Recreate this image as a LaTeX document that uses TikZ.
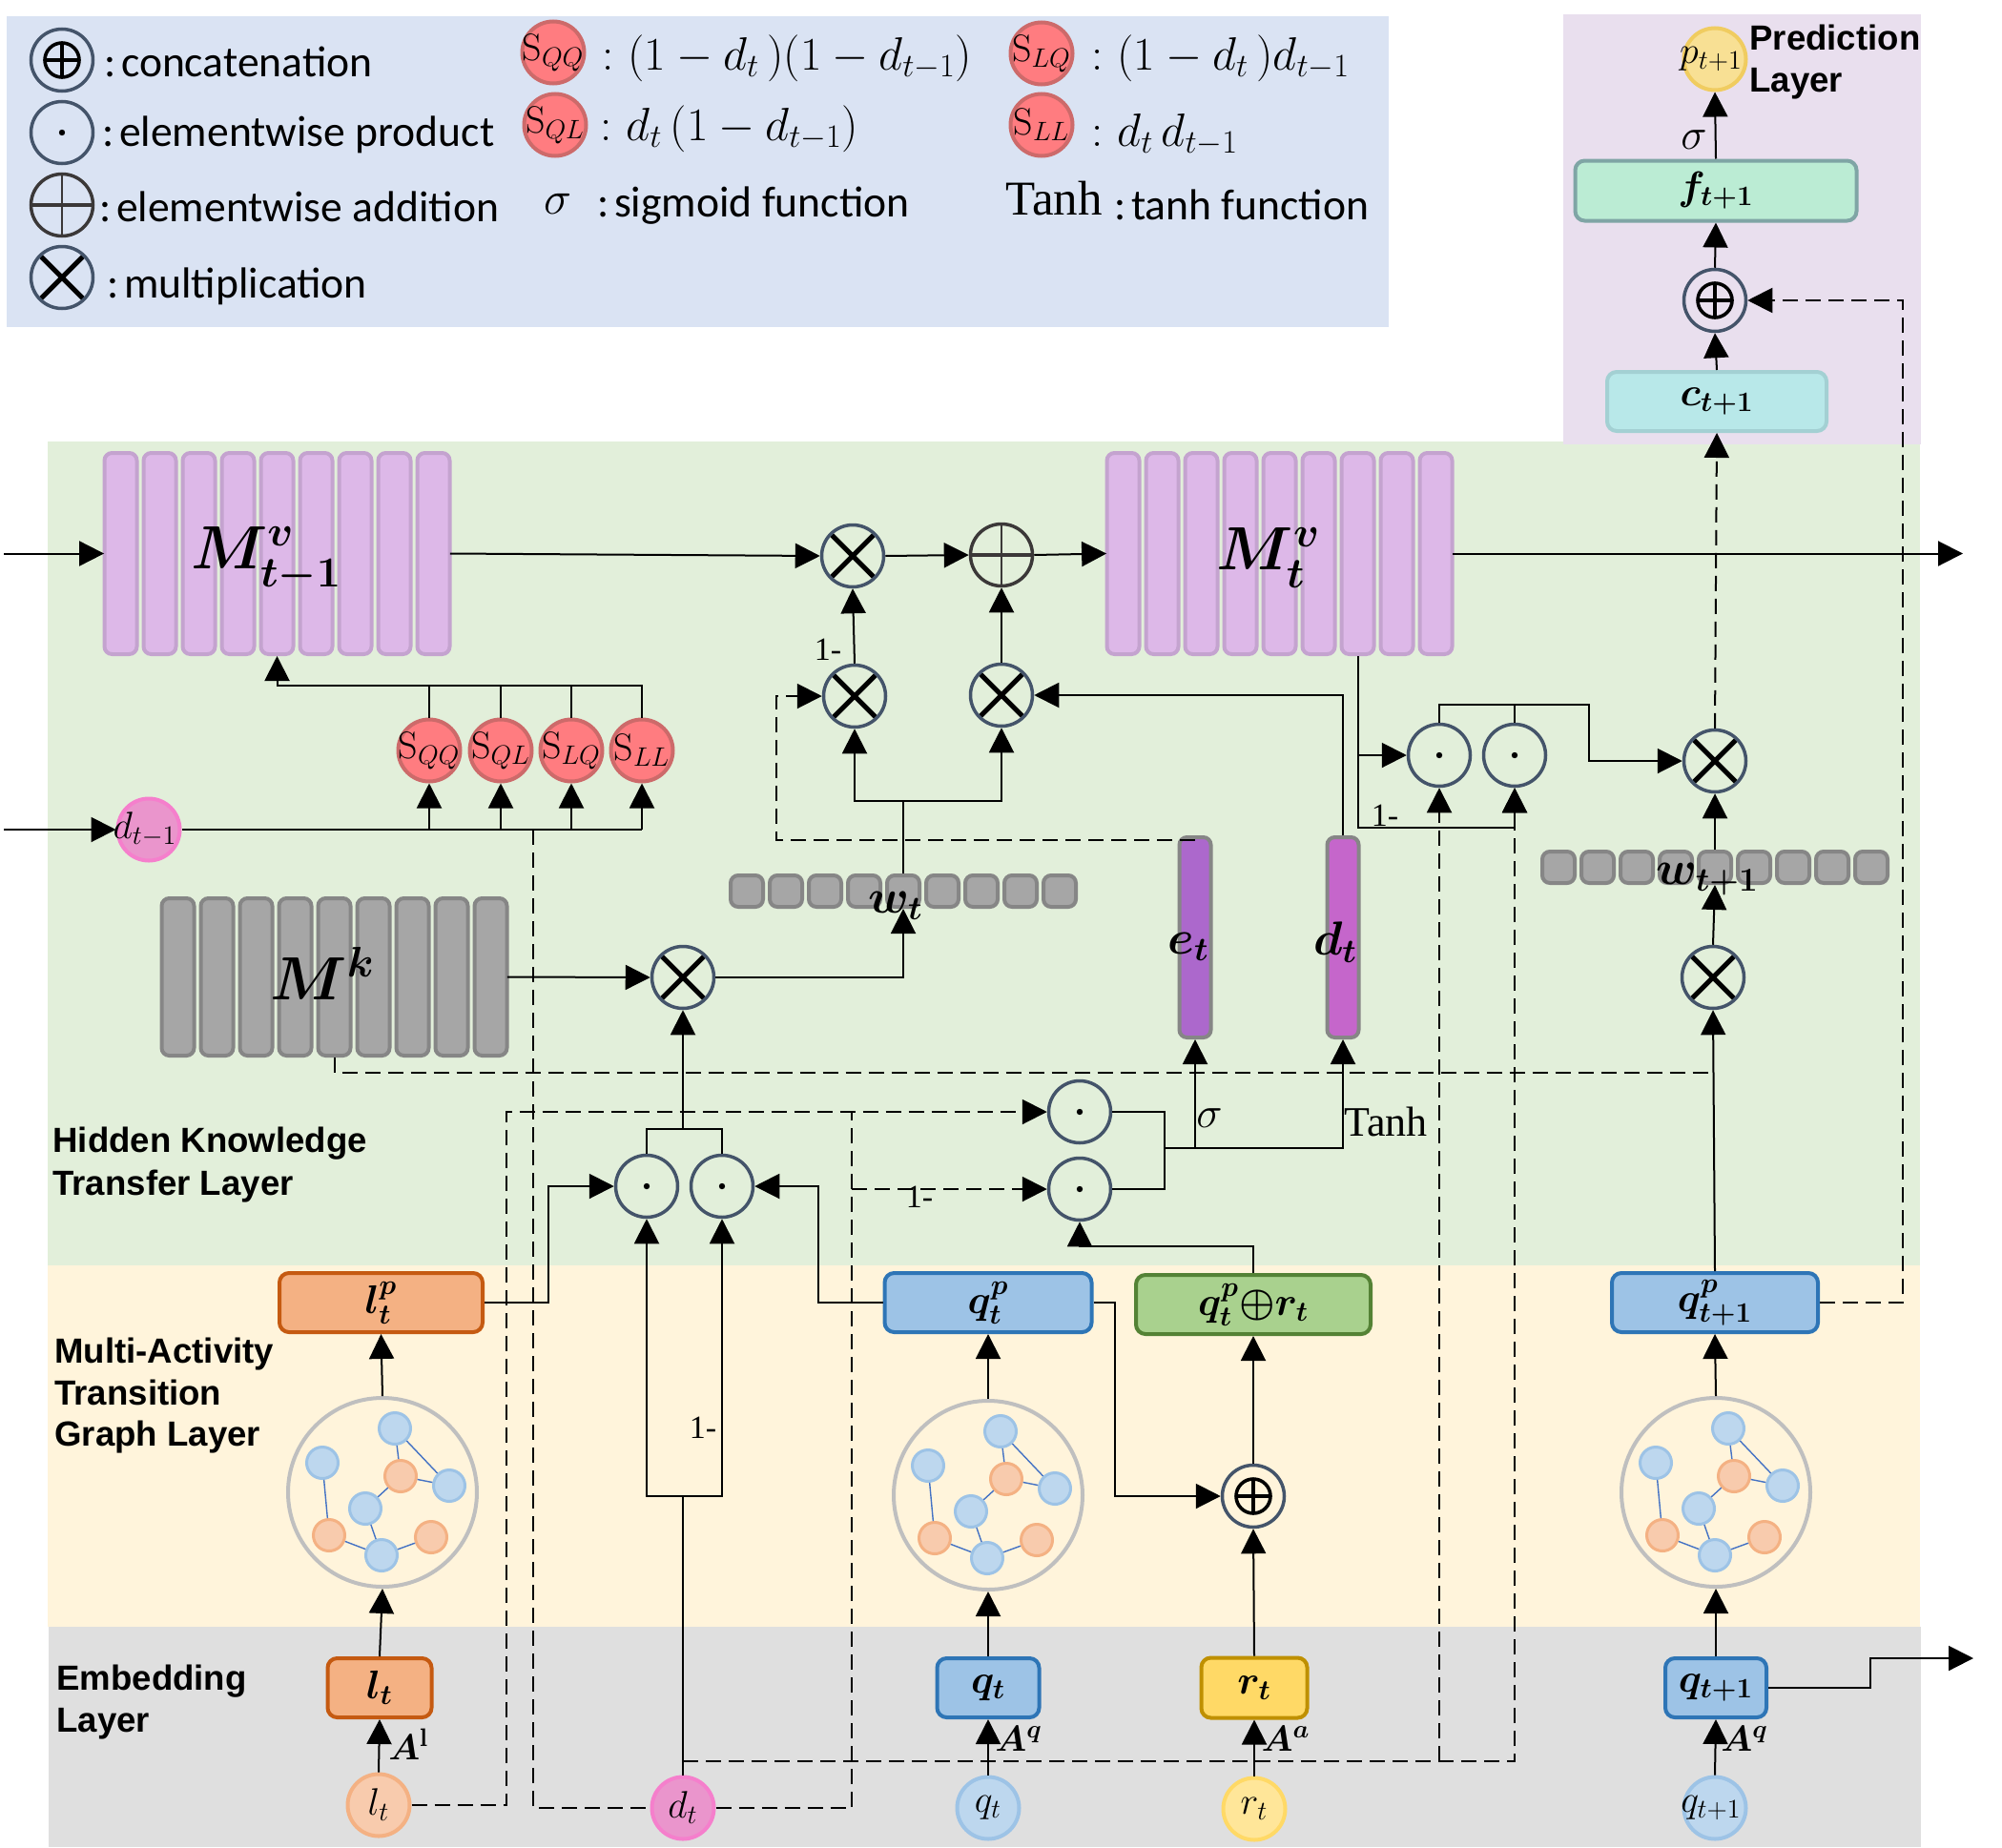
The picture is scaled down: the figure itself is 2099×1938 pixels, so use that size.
\RequirePackage{fix-cm}
\documentclass[tikz,border=0pt]{standalone}
\usepackage{amsmath}
\usepackage{fontspec}
\usetikzlibrary{arrows.meta,calc}
\newfontfamily\calib{Carlito}
\newfontfamily\arialf{Liberation Sans}
\newfontfamily\timesf{Liberation Serif}
\newcommand\fs[1]{\fontsize{#1}{#1}\selectfont}
\newcommand\ctxt[1]{\makebox[0pt]{$#1$}}
\definecolor{legbg}{HTML}{DAE3F3}
\definecolor{predbg}{HTML}{E9DFEE}
\definecolor{greenbg}{HTML}{E2EFDA}
\definecolor{yellowbg}{HTML}{FFF4DB}
\definecolor{greybg}{HTML}{DFDFDF}
\definecolor{opc}{HTML}{44546A}
\definecolor{addc}{HTML}{3B3838}
\definecolor{purpf}{HTML}{DDB8E8}
\definecolor{purpd}{HTML}{C4A3CF}
\definecolor{grayf}{HTML}{A6A6A6}
\definecolor{grayd}{HTML}{868686}
\definecolor{sf}{HTML}{FF7C80}
\definecolor{sd}{HTML}{CD6A6A}
\definecolor{df}{HTML}{EA95CC}
\definecolor{dd}{HTML}{F57FCC}
\definecolor{lf}{HTML}{F8CBAD}
\definecolor{ld}{HTML}{F4B183}
\definecolor{lbd}{HTML}{C55A11}
\definecolor{bf}{HTML}{BDD7EE}
\definecolor{bd}{HTML}{9DC3E6}
\definecolor{qbd}{HTML}{2E75B6}
\definecolor{grf}{HTML}{A9D18E}
\definecolor{grd}{HTML}{548235}
\definecolor{yf}{HTML}{FFE699}
\definecolor{yd}{HTML}{FFD966}
\definecolor{ybd}{HTML}{BF9000}
\definecolor{pf}{HTML}{F8E094}
\definecolor{pd}{HTML}{F0CC60}
\definecolor{cfc}{HTML}{B8E8E9}
\definecolor{cdc}{HTML}{A3D0D3}
\definecolor{ffc}{HTML}{BBECD4}
\definecolor{fdc}{HTML}{7FA5A5}
\definecolor{ebar}{HTML}{AC68CC}
\definecolor{dbarc}{HTML}{C566CB}
\definecolor{edge}{HTML}{4472C4}
\tikzset{
  ln/.style={line width=1pt,draw=black},
  arr/.style={ln,-{Triangle[length=13pt,width=13pt]}},
  dashln/.style={ln,dash pattern=on 8pt off 4pt},
  dasharr/.style={dashln,-{Triangle[length=13pt,width=13pt]}},
  wh/.style 2 args={minimum width={(#1)*0.5pt-2pt},minimum height={(#2)*0.5pt-2pt}},
  panel/.style={draw=none,inner sep=0pt},
  box/.style={rectangle,rounded corners=5pt,line width=2pt,inner sep=0pt,font=\fs{21}\boldmath},
  cell/.style={rectangle,rounded corners=4pt,line width=2pt,inner sep=0pt},
  dotc/.style={circle,line width=2pt,minimum size=32.5pt,inner sep=0pt,font=\fs{20}},
  sdot/.style={dotc,fill=sf,draw=sd,font=\fs{20}},
  opnode/.style={circle,draw=opc,line width=1.75pt,minimum size=32.5pt,inner sep=0pt},
  xop/.style={opnode,path picture={
    \draw[line width=2.5pt,black] ([shift={(-11pt,-11pt)}]path picture bounding box.center) -- ([shift={(11pt,11pt)}]path picture bounding box.center);
    \draw[line width=2.5pt,black] ([shift={(-11pt,11pt)}]path picture bounding box.center) -- ([shift={(11pt,-11pt)}]path picture bounding box.center);}},
  dotop/.style={opnode,path picture={
    \fill[black] (path picture bounding box.center) circle (1.6pt);}},
  catop/.style={opnode,path picture={
    \draw[line width=1.8pt,black] (path picture bounding box.center) circle (9pt);
    \draw[line width=1.8pt,black] ([shift={(-9pt,0pt)}]path picture bounding box.center) -- ([shift={(9pt,0pt)}]path picture bounding box.center);
    \draw[line width=1.8pt,black] ([shift={(0pt,-9pt)}]path picture bounding box.center) -- ([shift={(0pt,9pt)}]path picture bounding box.center);}},
  addop/.style={opnode,draw=addc,path picture={
    \draw[line width=2pt,addc] ([shift={(-18pt,0pt)}]path picture bounding box.center) -- ([shift={(18pt,0pt)}]path picture bounding box.center);
    \draw[line width=1.1pt,addc] ([shift={(0pt,-18pt)}]path picture bounding box.center) -- ([shift={(0pt,18pt)}]path picture bounding box.center);}},
  ring/.style={circle,draw=black!25,line width=2pt,minimum size=99pt,inner sep=0pt},
  gb/.style={circle,fill=bf,draw=bd,line width=1.5pt,minimum size=16.5pt,inner sep=0pt},
  go/.style={circle,fill=lf,draw=ld,line width=1.5pt,minimum size=16.5pt,inner sep=0pt},
  ge/.style={edge,line width=0.7pt},
  layerlab/.style={anchor=base west,inner sep=0pt,font=\arialf\bfseries\fs{18.3}},
  legt/.style={anchor=base west,inner sep=0pt,font=\calib\fs{22.8}},
  legm/.style={anchor=base west,inner sep=0pt,font=\fs{24.5}},
  big/.style={inner sep=0pt,font=\fs{32}\boldmath},
  med/.style={inner sep=0pt,font=\fs{25}\boldmath},
  small/.style={inner sep=0pt,font=\timesf\fs{17}},
  note/.style={inner sep=0pt,font=\fs{19}\boldmath},
}
\newcommand\bank[6]{%
  \node[panel,wh={366}{#4}] (#1) at (#2,#3) {};
  \foreach \i in {0,...,8}
    \node[cell,wh={38}{#4},fill=#5,draw=#6] (#1-\i) at ({#2+(\i-4)*41},#3) {};
}
\newcommand\gnet[3]{%
  \begin{scope}[shift={(#2,#3)},name prefix=#1-]
    \node[ring] (ring) at (0,0) {};
    \node[gb] (a) at (13,-67) {};
    \node[gb] (b) at (-63,-31) {};
    \node[go] (c) at (19,-17) {};
    \node[gb] (d) at (70,-7) {};
    \node[gb] (e) at (-18,17) {};
    \node[go] (f) at (-56,45) {};
    \node[gb] (g) at (-1,66) {};
    \node[go] (h) at (51,47) {};
    \draw[ge] (a) -- (c);
    \draw[ge] (a) -- (d);
    \draw[ge] (c) -- (d);
    \draw[ge] (c) -- (e);
    \draw[ge] (b) -- (f);
    \draw[ge] (f) -- (g);
    \draw[ge] (e) -- (g);
    \draw[ge] (g) -- (h);
  \end{scope}%
}
\begin{document}
\begin{tikzpicture}[x=0.5pt,y=-0.5pt]
\useasboundingbox (0,0) rectangle (2099,1938);
% panels
\fill[legbg] (7,17) rectangle (1456,343);
\fill[greenbg] (50,463) rectangle (2013,1327);
\fill[predbg] (1639,15) rectangle (2014,466);
\fill[yellowbg] (50,1327) rectangle (2013,1706);
\fill[greybg] (51,1706) rectangle (2014,1937);

% legend
\node[catop] (lg1) at (65,63) {};
\node[dotop] (lg2) at (65,139) {};
\node[addop] (lg3) at (65,215) {};
\node[xop] (lg4) at (65,291) {};
\node[legt] (lt1) at (109,80) {:\kern.12em concatenation};
\node[legt] (lt2) at (107,153) {:\kern.12em elementwise product};
\node[legt] (lt3) at (104,232) {:\kern.12em elementwise addition};
\node[legt] (lt4) at (112,312) {:\kern.12em multiplication};
\node[sdot] (ls1) at (580,55) {\ctxt{\mathrm{S}_{QQ}}};
\node[sdot] (ls2) at (582,131) {\ctxt{\mathrm{S}_{QL}}};
\node[sdot] (ls3) at (1092,56) {\ctxt{\mathrm{S}_{LQ}}};
\node[sdot] (ls4) at (1092,131) {\ctxt{\mathrm{S}_{LL}}};
\node[legm] (lm1) at (631,73) {:\ $(1-d_t\,)(1-d_{t-1})$};
\node[legm] (lm2) at (629,147) {:\ $d_t\,(1-d_{t-1})$};
\node[legm] (lm3) at (1144,73) {:\ $(1-d_t\,)d_{t-1}$};
\node[legm] (lm4) at (1144,153) {:\ $d_t\,d_{t-1}$};
\node[legm] (lsig) at (570,224) {$\sigma$};
\node[legt] (lt5) at (626,227) {:\kern.12em sigmoid function};
\node[anchor=base west,inner sep=0pt,font=\timesf\fs{25.5}] (ltanh) at (1054,225) {Tanh};
\node[legt] (lt6) at (1168,230) {:\kern.12em tanh function};

% banks
\bank{mprev}{290.5}{580.5}{215}{purpf}{purpd}
\bank{mcur}{1341.5}{580.5}{215}{purpf}{purpd}
\bank{mk}{350.5}{1024.5}{169}{grayf}{grayd}
\bank{wt}{947}{934.5}{37}{grayf}{grayd}
\bank{wn}{1798}{909.5}{37}{grayf}{grayd}

% operators
\node[xop] (x1) at (894,583) {};
\node[xop] (x2) at (896,730) {};
\node[addop] (plus) at (1050,582) {};
\node[xop] (x3) at (1050,729) {};
\node[xop] (x4) at (716,1025) {};
\node[xop] (x5) at (1796,1025) {};
\node[xop] (x6) at (1798,798) {};
\node[dotop] (dot1) at (678,1244) {};
\node[dotop] (dot2) at (757,1244) {};
\node[dotop] (dotT) at (1132,1166) {};
\node[dotop] (dotB) at (1132,1247) {};
\node[dotop] (dotPa) at (1509,792) {};
\node[dotop] (dotPb) at (1588,792) {};
\node[catop] (cat) at (1314,1569) {};
\node[catop] (con) at (1798,315) {};

% S circles and d_{t-1}
\node[sdot] (sqq) at (450,787) {\ctxt{\mathrm{S}_{QQ}}};
\node[sdot] (sql) at (525,787) {\ctxt{\mathrm{S}_{QL}}};
\node[sdot] (slq) at (599,787) {\ctxt{\mathrm{S}_{LQ}}};
\node[sdot] (sll) at (673,787) {\ctxt{\mathrm{S}_{LL}}};
\node[dotc,fill=df,draw=dd] (dprev) at (156,870) {\ctxt{d_{t-1}\kern4pt}};

% e and d bars
\node[cell,wh={37}{214},fill=ebar,draw=grayd] (ebr) at (1253,983) {};
\node[cell,wh={37}{214},fill=dbarc,draw=grayd] (dbr) at (1408,983) {};

% boxes
\node[box,wh={217}{66},fill=ld,draw=lbd] (lp) at (399.5,1366) {$l_t^p$};
\node[box,wh={221}{66},fill=bd,draw=qbd] (qp) at (1036,1366) {$q_t^p$};
\node[box,wh={250}{66},fill=grf,draw=grd] (qr) at (1314,1368) {$q_t^p{\oplus}r_t$};
\node[box,wh={220}{66},fill=bd,draw=qbd] (qpn) at (1798,1366) {$q_{t+1}^p$};
\node[box,wh={113}{66},fill=ld,draw=lbd] (lb) at (398,1770) {$l_t$};
\node[box,wh={111}{66},fill=bd,draw=qbd] (qb) at (1036,1770) {$q_t$};
\node[box,wh={115}{67},fill=yd,draw=ybd] (rb) at (1315,1770) {$r_t$};
\node[box,wh={110}{66},fill=bd,draw=qbd] (qn) at (1799,1770) {$q_{t+1}$};
\node[box,wh={234}{66},fill=cfc,draw=cdc] (cb) at (1800,421) {$c_{t+1}$};
\node[box,wh={299}{67},fill=ffc,draw=fdc] (fb) at (1799,200) {$f_{t+1}$};

% graphs
\gnet{g1}{401}{1565}
\gnet{g2}{1036}{1568}
\gnet{g3}{1799}{1565}

% bottom circles
\node[dotc,fill=lf,draw=ld] (lc) at (397,1893) {\ctxt{l_t}};
\node[dotc,fill=df,draw=dd] (dt) at (716,1896) {\ctxt{d_t}};
\node[dotc,fill=bf,draw=bd] (qc) at (1036,1896) {\ctxt{q_t}};
\node[dotc,fill=yf,draw=yd] (rc) at (1315,1897) {\ctxt{r_t}};
\node[dotc,fill=bf,draw=bd] (qnc) at (1798,1896) {\ctxt{q_{t+1}\kern4pt}};
\node[dotc,fill=pf,draw=pd] (pc) at (1798,62) {\ctxt{p_{t+1}\kern4pt}};

% helper coordinates
\coordinate (inM) at (4,580.5);
\coordinate (inD) at (4,870);
\coordinate (outM) at (2058,580.5);
\coordinate (outQ) at (2069,1739);
\coordinate (qturn) at (1961,1739);
\coordinate (sbus) at (673,719);
\coordinate (dtap) at (559,870);
\coordinate (lv) at (531,1166);
\coordinate (dv) at (893,1166);
\coordinate (dbus) at (716,1847);
\coordinate (oneminus) at (1423,868);
\coordinate (pturn) at (1666,739);
\coordinate (mkend) at (1792,1125);
\coordinate (wbus) at (947,840);
\coordinate (dotbus) at (716,1184);
\coordinate (dbox) at (716,1569);
\coordinate (lturn) at (575,1244);
\coordinate (qturnb) at (858,1244);
\coordinate (qpturn) at (1169,1450);
\coordinate (qrturn) at (1132,1307);
\coordinate (bus) at (1221,1204);
\coordinate (eturn) at (814,730);
\coordinate (etop) at (1253,881);
\coordinate (cturn) at (1995,315);

% top row
\draw[arr] (inM) -- (mprev.west);
\draw[arr] (mprev.east) -- (x1.west);
\draw[arr] (x1.east) -- (plus.west);
\draw[arr] (plus.east) -- (mcur.west);
\draw[arr] (mcur.east) -- (outM);
% S circles
\draw[arr] (inD) -- (dprev.west);
\draw[ln] (dprev.east) -- (sll.south |- dprev.east);
\foreach \n in {sqq,sql,slq,sll} \draw[arr] (\n.south |- dprev.east) -- (\n.south);
\foreach \n in {sqq,sql,slq} \draw[ln] (\n.north) -- (\n.north |- sbus);
\draw[arr] (sll.north) |- (mprev-4.south |- sbus) -- (mprev-4.south);
% gates to memory
\draw[arr] (x2.north) -- (x1.south);
\draw[arr] (x3.north) -- (plus.south);
\draw[ln] (wt-4.north) -- (wbus);
\draw[arr] (wbus) -| (x2.south);
\draw[arr] (wbus) -| (x3.south);
\draw[arr] (dbr.north) |- (x3.east);
\draw[dasharr] (etop) -| (eturn) -- (x2.west);
% knowledge
\draw[arr] (mk.east) -- (x4.west);
\draw[arr] (x4.east) -| (wt-4.south);
\draw[arr] (dotbus) -- (x4.south);
\draw[ln] (dot1.north) |- (dot2.north |- dotbus) -- (dot2.north);
\draw[dashln] (mk-4.south) |- (mkend);
% activity gate
\draw[arr] (lp.east) -| (lturn) -- (dot1.west);
\draw[arr] (qp.west) -| (qturnb) -- (dot2.east);
\draw[ln] (dt.north) -- (dbox);
\draw[arr] (dbox) -| (dot1.south);
\draw[arr] (dbox) -| (dot2.south);
% dashed gating
\draw[dashln] (dtap) |- (dt.west);
\draw[dashln] (dt.east) -| (dv);
\draw[dasharr] (lc.east) -| (lv) -- (dotT.west);
\draw[dasharr] (dv |- dotB.west) -- (dotB.west);
\draw[dasharr] (dbus) -| (dotPb.south);
\draw[dasharr] (dotPa.south |- dbus) -- (dotPa.south);
% erase/add
\draw[arr] (qr.north) |- (qrturn) -- (dotB.south);
\draw[ln] (dotT.east) -| (bus);
\draw[ln] (dotB.east) -| (bus);
\draw[arr] (bus) -| (dbr.south);
\draw[arr] (ebr.south |- bus) -- (ebr.south);
% read for t+1
\draw[arr] (mcur-6.south) |- (dotPb.south |- oneminus) -- (dotPb.south);
\draw[arr] (mcur-6.south |- dotPa.west) -- (dotPa.west);
\draw[ln] (dotPb.north) -- (dotPb.north |- pturn);
\draw[arr] (dotPa.north) |- (pturn) |- (x6.west);
\draw[arr] (wn-4.north) -- (x6.south);
\draw[arr] (x5.north) -- (wn-4.south);
\draw[arr] (qpn.north) -- (x5.south);
\draw[dasharr] (x6.north) -- (cb.south);
% prediction
\draw[arr] (cb.north) -- (con.south);
\draw[arr] (con.north) -- (fb.south);
\draw[arr] (fb.north) -- (pc.south);
\draw[dasharr] (qpn.east) -| (cturn) -- (con.east);
% columns
\draw[arr] (lc.north) -- (lb.south);
\draw[arr] (lb.north) -- (g1-ring.south);
\draw[arr] (g1-ring.north) -- (lp.south);
\draw[arr] (qc.north) -- (qb.south);
\draw[arr] (qb.north) -- (g2-ring.south);
\draw[arr] (g2-ring.north) -- (qp.south);
\draw[arr] (rc.north) -- (rb.south);
\draw[arr] (rb.north) -- (cat.south);
\draw[arr] (cat.north) -- (qr.south);
\draw[arr] (qp.east) -| (qpturn) |- (cat.west);
\draw[arr] (qnc.north) -- (qn.south);
\draw[arr] (qn.north) -- (g3-ring.south);
\draw[arr] (g3-ring.north) -- (qpn.south);
\draw[arr] (qn.east) -| (qturn) -- (outQ);

% big labels
\node[big] (tmprev) at (279,587) {$M_{t-1}^{v}$};
\node[big] (tmcur) at (1330,585) {$M_{t}^{v}$};
\node[big] (tmk) at (338,1021) {$M^{k}$};
\node[med] (tw) at (939,950) {$w_t$};
\node[med] (twn) at (1790,922) {$w_{t+1}$};
\node[med] (te) at (1246,993) {$e_t$};
\node[med] (td) at (1400,988) {$d_t$};
% small labels
\node[note] (ta1) at (428,1829) {$A^{\mathrm{l}}$};
\node[note] (ta2) at (1068,1823) {$A^{q}$};
\node[note] (ta3) at (1348,1823) {$A^{a}$};
\node[note] (ta4) at (1829,1823) {$A^{q}$};
\node[inner sep=0pt,font=\fs{23}] (ts1) at (1268,1173) {$\sigma$};
\node[inner sep=0pt,font=\fs{23}] (ts2) at (1776,147) {$\sigma$};
\node[anchor=base west,inner sep=0pt,font=\timesf\fs{22}] (ttanh) at (1409,1191) {Tanh};
\node[small] (om1) at (868,681) {1-};
\node[small] (om2) at (737,1497) {1-};
\node[small] (om3) at (964,1255) {1-};
\node[small] (om4) at (1452,855) {1-};
% layer labels
\node[layerlab] (h1) at (55,1208) {Hidden Knowledge};
\node[layerlab] (h2) at (55,1253) {Transfer Layer};
\node[layerlab] (m1) at (57,1429) {Multi-Activity};
\node[layerlab] (m2) at (57,1473) {Transition};
\node[layerlab] (m3) at (57,1516) {Graph Layer};
\node[layerlab] (e1) at (59,1772) {Embedding};
\node[layerlab] (e2) at (59,1816) {Layer};
\node[layerlab] (p1) at (1834,52) {Prediction};
\node[layerlab] (p2) at (1834,96) {Layer};
\end{tikzpicture}
\end{document}
